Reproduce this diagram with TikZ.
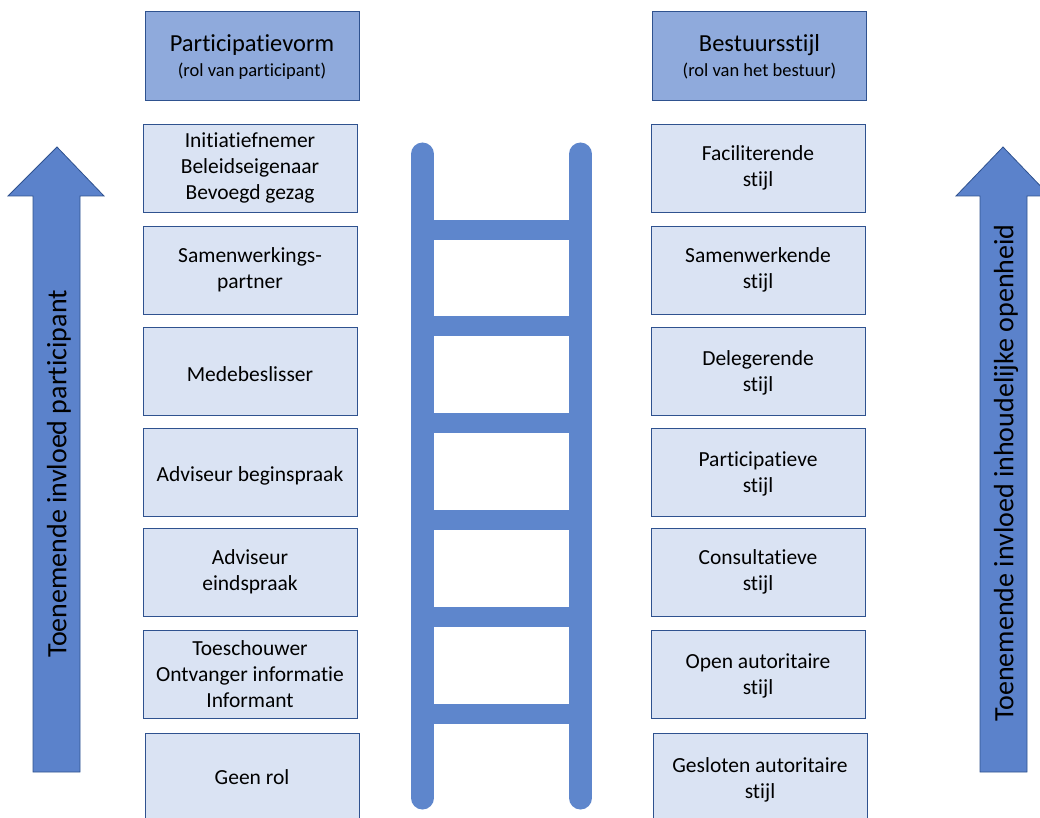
\documentclass[tikz,border=0pt]{standalone}
\usepackage{fontspec}
\setmainfont{Carlito}[Ligatures={NoCommon}]
\definecolor{hdrfill}{HTML}{8FAADC}
\definecolor{boxfill}{HTML}{DAE3F3}
\definecolor{boxline}{HTML}{2F528F}
\definecolor{ladder}{HTML}{5E86CC}
\definecolor{arrowfill}{HTML}{5B82CB}
\newcommand{\lowertext}[2]{\raisebox{-#1}[\height][\depth]{#2}}
\begin{document}
\begin{tikzpicture}[x=1pt,y=-1pt,
  hdr/.style={draw=boxline,fill=hdrfill,line width=0.9pt,minimum width=214pt,minimum height=89pt,align=center,inner sep=0pt,font=\fontsize{24.5}{28}\selectfont},
  cell/.style={draw=boxline,fill=boxfill,line width=0.9pt,minimum width=214pt,minimum height=88pt,align=center,inner sep=0pt,font=\fontsize{21.5}{26}\selectfont},
  rail/.style={draw=ladder,line width=23pt,line cap=round},
  rung/.style={fill=ladder},
  bigarrow/.style={draw=boxline,fill=arrowfill,line width=0.8pt},
  arrowtext/.style={rotate=90,font=\fontsize{28}{32}\selectfont}]
\useasboundingbox (0,0) rectangle (1040,818);
\clip (0,0) rectangle (1040,818);
% headers
\node[hdr] (h1) at (252,55.5) {\lowertext{1.5pt}{Participatievorm}\\[-2.5pt]{\fontsize{18.5}{22}\selectfont \lowertext{1.5pt}{(rol van participant)}}};
\node[hdr] (h2) at (759.5,55.5) {\lowertext{1.5pt}{Bestuursstijl}\\[-2.5pt]{\fontsize{18.5}{22}\selectfont \lowertext{1.5pt}{(rol van het bestuur)}}};
% left column
\node[cell] (l1) at (250,168) {Initiatiefnemer\\Beleidseigenaar\\Bevoegd gezag};
\node[cell] (l2) at (250,270) {Samenwerkings-\\partner};
\node[cell] (l3) at (250,371) {\lowertext{3.5pt}{Medebeslisser}};
\node[cell] (l4) at (250,472) {\lowertext{3.5pt}{Adviseur beginspraak}};
\node[cell] (l5) at (250,572) {Adviseur\\eindspraak};
\node[cell] (l6) at (250,674) {Toeschouwer\\Ontvanger informatie\\Informant};
\node[cell] (l7) at (252,777) {Geen rol};
% right column
\node[cell] (r1) at (758,168) {Faciliterende\\stijl};
\node[cell] (r2) at (758,270) {Samenwerkende\\stijl};
\node[cell] (r3) at (758,371) {\lowertext{2pt}{Delegerende}\\\lowertext{2pt}{stijl}};
\node[cell] (r4) at (758,472) {\lowertext{2pt}{Participatieve}\\\lowertext{2pt}{stijl}};
\node[cell] (r5) at (758,572) {Consultatieve\\stijl};
\node[cell] (r6) at (758,674) {\lowertext{2pt}{Open autoritaire}\\\lowertext{2pt}{stijl}};
\node[cell] (r7) at (760,777) {\lowertext{3pt}{Gesloten autoritaire}\\\lowertext{3pt}{stijl}};
% ladder
\draw[rail] (422.5,154) -- (422.5,798);
\draw[rail] (580.5,154) -- (580.5,798);
\foreach \y in {230,326,423,520,617,714}
  \fill[rung] (433,\y-10) rectangle (570,\y+10);
% arrows
\draw[bigarrow] (33,772) -- (33,196) -- (8,196) -- (57,147) -- (104,196) -- (80,196) -- (80,772) -- cycle;
\node[arrowtext] (ta) at (59,474) {Toenemende invloed participant};
\draw[bigarrow] (980,772) -- (980,196) -- (956,196) -- (1003,147) -- (1050,196) -- (1027,196) -- (1027,772) -- cycle;
\node[arrowtext] (tb) at (1006,473) {Toenemende invloed inhoudelijke openheid};
\end{tikzpicture}
\end{document}
